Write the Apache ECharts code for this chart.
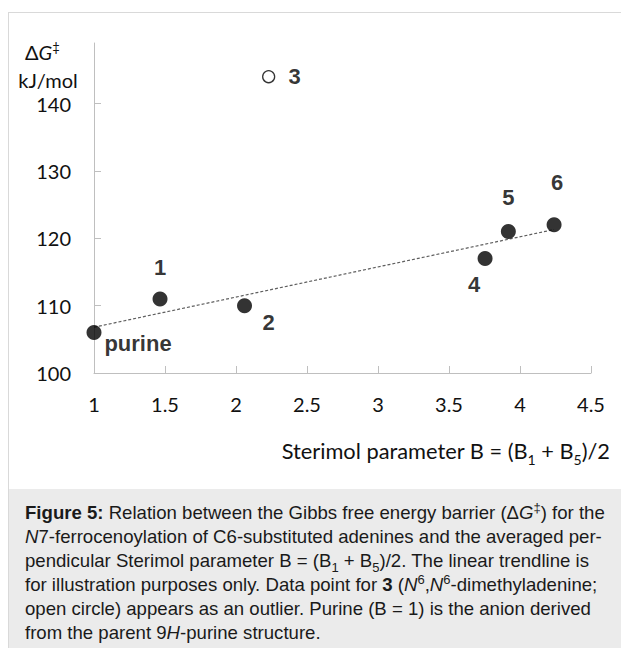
<!DOCTYPE html>
<html>
<head>
<meta charset="utf-8">
<script src="https://cdn.jsdelivr.net/npm/echarts@6/dist/echarts.min.js"></script>
<style>
  html, body { margin: 0; padding: 0; background: #fff; }
  #frame { position: absolute; left: 8px; top: 12px; width: 613px; height: 636px;
           border-left: 1px solid #d9d9d9; border-top: 1px solid #d9d9d9; box-sizing: border-box; }
  #chart { position: absolute; left: 0; top: 0; width: 621px; height: 489px; }
  #caption { position: absolute; left: 9px; top: 489px; width: 612px; height: 159px;
             background: #ebebeb; box-sizing: border-box; padding: 12px 0 0 16px;
             font-family: 'Liberation Sans', Arial, sans-serif; font-size: 18.6px; line-height: 24px;
             color: #1a1a1a; white-space: nowrap; }
  #caption sup, #caption sub { font-size: 13px; line-height: 0; }
</style>
</head>
<body>
<div id="frame"></div>
<div id="chart"></div>
<div id="caption">
<b>Figure 5:</b> Relation between the Gibbs free energy barrier (Δ<i>G</i><sup>‡</sup>) for the<br>
<i>N</i>7-ferrocenoylation of C6-substituted adenines and the averaged per-<br>
pendicular Sterimol parameter B = (B<sub>1</sub> + B<sub>5</sub>)/2. The linear trendline is<br>
for illustration purposes only. Data point for <b>3</b> (<i>N</i><sup>6</sup>,<i>N</i><sup>6</sup>-dimethyladenine;<br>
open circle) appears as an outlier. Purine (B = 1) is the anion derived<br>
from the parent 9<i>H</i>-purine structure.
</div>
<script>
// ---- data ----
const categories = ['purine', '1', '2', '3', '4', '5', '6'];
const sterimolB  = [1.00, 1.465, 2.06, 2.23, 3.754, 3.918, 4.24];
const deltaG     = [106, 111, 110, 144, 117, 121, 122];
const outlier    = ['3'];               // open-circle point
const trendX     = [1.0, 4.24];         // trendline ends
const trendY     = [106.8, 121.3];
const xTicks     = [1, 1.5, 2, 2.5, 3, 3.5, 4, 4.5];
const yTicks     = [100, 110, 120, 130, 140];

// ---- label placement (style only) ----
const labelOffset = {
  'purine': [44, 11], '1': [0, -31], '2': [24, 17], '3': [26, 0],
  '4': [-11, 26], '5': [0, -34], '6': [3, -42]
};

const filled = [], open = [];
categories.forEach((c, i) => {
  const item = {
    name: c, value: [sterimolB[i], deltaG[i]],
    label: { offset: labelOffset[c] }
  };
  (outlier.includes(c) ? open : filled).push(item);
});

const labelStyle = {
  show: true, position: 'inside', formatter: '{b}',
  fontFamily: 'Liberation Sans, Arial, sans-serif', fontWeight: 'bold',
  fontSize: 22, color: '#000'
};

const axisFont = { fontFamily: 'Lato, sans-serif', fontSize: 20, color: '#111' };

const chart = echarts.init(document.getElementById('chart'), null, { renderer: 'svg' });
chart.setOption({
  animation: false,
  grid: { left: 94, right: 30, top: 43, bottom: 116 },
  xAxis: {
    type: 'value', min: 1, max: 4.5, interval: 0.5,
    axisLine: { lineStyle: { color: '#bfbfbf', width: 1 } },
    axisTick: { show: true, inside: true, length: 7, lineStyle: { color: '#bfbfbf' }, customValues: xTicks },
    axisLabel: Object.assign({ margin: 21, customValues: xTicks }, axisFont),
    splitLine: { show: false }
  },
  yAxis: {
    type: 'value', min: 100, max: 149, interval: 10,
    axisLine: { show: true, lineStyle: { color: '#bfbfbf', width: 1 } },
    axisTick: { show: true, inside: true, length: 7, lineStyle: { color: '#bfbfbf' }, customValues: yTicks },
    axisLabel: Object.assign({ margin: 23, customValues: yTicks }, axisFont),
    splitLine: { show: false }
  },
  series: [
    {
      type: 'line', data: trendX.map((x, i) => [x, trendY[i]]),
      symbol: 'none', silent: true, z: 1,
      lineStyle: { color: '#5f5f5f', width: 1.2, type: [3, 2] }
    },
    {
      type: 'scatter', data: filled, symbol: 'circle', symbolSize: 15, z: 3,
      itemStyle: { color: '#000' }, label: labelStyle
    },
    {
      type: 'scatter', data: open, symbol: 'circle', symbolSize: 12, z: 3,
      itemStyle: { color: '#fff', borderColor: '#000', borderWidth: 1.3 }, label: labelStyle
    }
  ],
  graphic: [
    {
      type: 'text', left: 25, top: 40,
      style: {
        text: '{n|Δ}{i|G}{s|‡}',
        rich: {
          n: { fontFamily: 'Lato, sans-serif', fontSize: 20, fill: '#111', lineHeight: 24 },
          i: { fontFamily: 'Lato, sans-serif', fontSize: 20, fontStyle: 'italic', fill: '#111', lineHeight: 24 },
          s: { fontFamily: 'Lato, sans-serif', fontSize: 13, fill: '#111', lineHeight: 24, verticalAlign: 'top' }
        }
      }
    },
    {
      type: 'text', x: 48, y: 80,
      style: { text: 'kJ/mol', fontFamily: 'Lato, sans-serif', fontSize: 20, fill: '#111',
               textAlign: 'center', textVerticalAlign: 'middle' }
    },
    {
      type: 'text', x: 610, y: 450,
      style: {
        text: '{n|Sterimol parameter B = (B}{b|1}{n| + B}{b|5}{n|)/2}',
        align: 'right', verticalAlign: 'middle',
        rich: {
          n: { fontFamily: 'Lato, sans-serif', fontSize: 21.8, fill: '#111', lineHeight: 30 },
          b: { fontFamily: 'Lato, sans-serif', fontSize: 14, fill: '#111', lineHeight: 32, verticalAlign: 'bottom' }
        }
      }
    }
  ]
});
</script>
</body>
</html>
